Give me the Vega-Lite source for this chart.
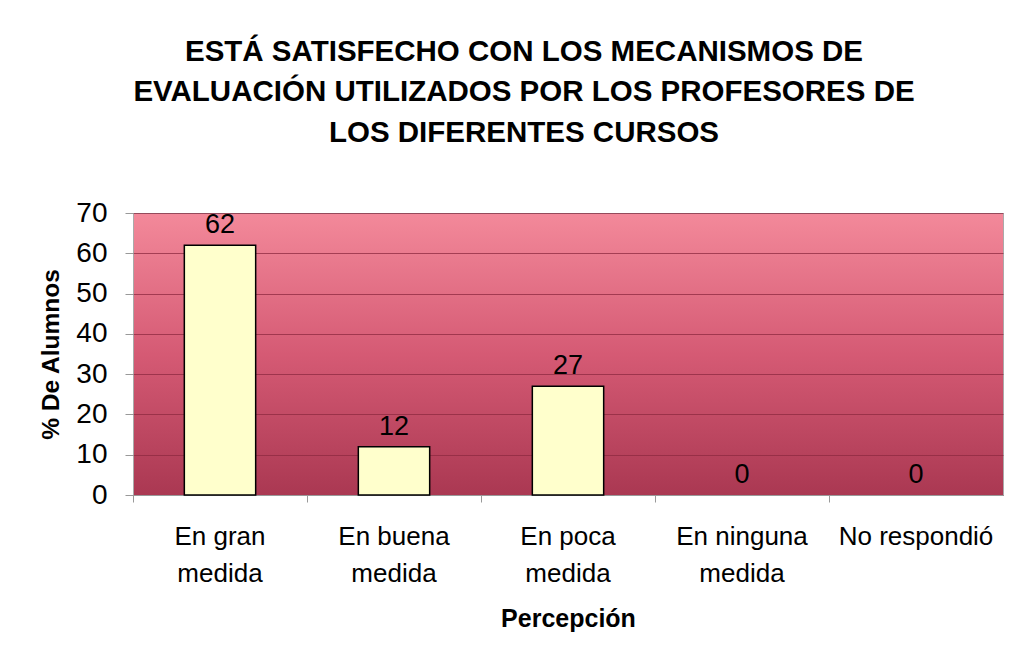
{
  "$schema": "https://vega.github.io/schema/vega-lite/v6.json",
  "autosize": "none",
  "width": 870,
  "height": 282,
  "padding": {"left": 133, "top": 213, "right": 18, "bottom": 161},
  "background": "white",
  "config": {
    "font": "Liberation Sans",
    "view": {
      "fill": {"gradient": "linear", "x1": 0, "y1": 0, "x2": 0, "y2": 1,
        "stops": [{"offset": 0, "color": "#f3899a"}, {"offset": 0.5, "color": "#d55a74"}, {"offset": 1, "color": "#aa3852"}]},
      "stroke": "#aaaaaa"
    }
  },
  "title": {
    "text": ["ESTÁ SATISFECHO CON LOS MECANISMOS DE", "EVALUACIÓN UTILIZADOS POR LOS PROFESORES DE", "LOS DIFERENTES CURSOS"],
    "font": "Liberation Sans",
    "fontSize": 29.5,
    "fontWeight": "bold",
    "color": "#000000",
    "lineHeight": 40.5,
    "anchor": "middle",
    "dx": -44,
    "offset": 51
  },
  "data": {
    "values": [
      {"categoria": "En gran medida", "porcentaje": 62},
      {"categoria": "En buena medida", "porcentaje": 12},
      {"categoria": "En poca medida", "porcentaje": 27},
      {"categoria": "En ninguna medida", "porcentaje": 0},
      {"categoria": "No respondió", "porcentaje": 0}
    ]
  },
  "encoding": {
    "x": {
      "field": "categoria",
      "type": "nominal",
      "sort": null,
      "scale": {"paddingInner": 0, "paddingOuter": 0},
      "axis": {
        "title": "Percepción",
        "titleFont": "Liberation Sans",
        "titleFontSize": 25,
        "titleFontWeight": "bold",
        "titleColor": "#000000",
        "titlePadding": 20,
        "labelAngle": 0,
        "labelFont": "Liberation Sans",
        "labelFontSize": 26,
        "labelColor": "#000000",
        "labelLineHeight": 37,
        "labelPadding": 21,
        "labelExpr": "indexof(datum.label, ' medida') > 0 ? [replace(datum.label, ' medida', ''), 'medida'] : datum.label",
        "bandPosition": 0,
        "tickSize": 7,
        "tickColor": "#999999",
        "domainColor": "#999999",
        "grid": false
      }
    },
    "y": {
      "field": "porcentaje",
      "type": "quantitative",
      "scale": {"domain": [0, 70]},
      "axis": {
        "title": "% De Alumnos",
        "titleFont": "Liberation Sans",
        "titleFontSize": 24.5,
        "titleFontWeight": "bold",
        "titleColor": "#000000",
        "titlePadding": 12,
        "values": [0, 10, 20, 30, 40, 50, 60, 70],
        "labelFont": "Liberation Sans",
        "labelFontSize": 28,
        "labelColor": "#000000",
        "labelPadding": 18,
        "tickSize": 8,
        "tickColor": "#999999",
        "domain": false,
        "gridColor": "#8e2a40",
        "gridOpacity": 0.75,
        "gridWidth": 1
      }
    }
  },
  "layer": [
    {
      "mark": {"type": "bar", "fill": "#ffffcc", "stroke": "#000000", "strokeWidth": 1.5, "width": {"band": 0.41}},
      "encoding": {
        "strokeOpacity": {"condition": {"test": "datum.porcentaje > 0", "value": 1}, "value": 0}
      }
    },
    {
      "mark": {"type": "text", "baseline": "alphabetic", "dy": -12, "font": "Liberation Sans", "fontSize": 27, "color": "#000000"},
      "encoding": {"text": {"field": "porcentaje", "type": "quantitative"}}
    }
  ]
}
